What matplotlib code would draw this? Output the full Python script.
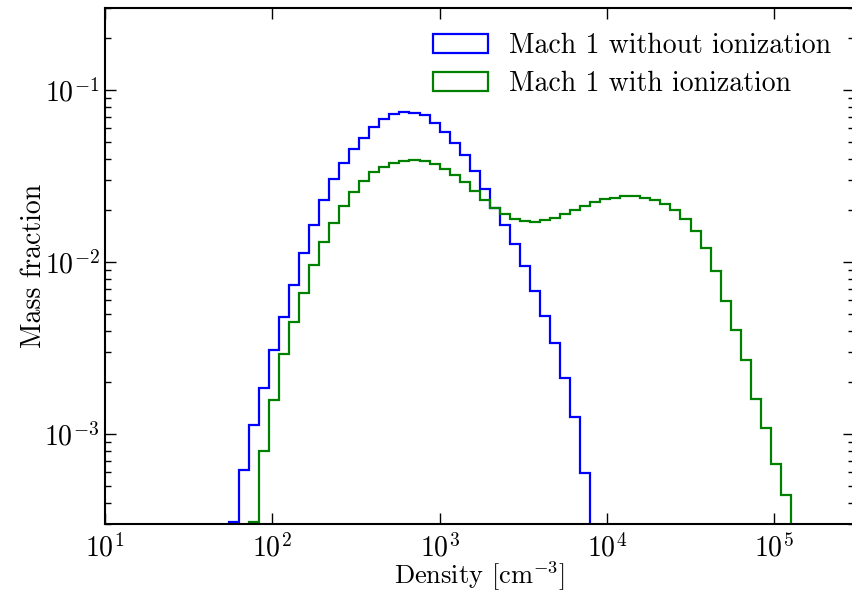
import numpy as np
import matplotlib
matplotlib.use('Agg')
import matplotlib.pyplot as plt
from matplotlib.patches import Patch
from matplotlib.ticker import LogLocator, NullLocator

plt.rcParams['font.family'] = 'serif'
plt.rcParams['font.serif'] = ['cmr10', 'DejaVu Serif']
plt.rcParams['mathtext.fontset'] = 'cm'
plt.rcParams['axes.formatter.use_mathtext'] = True

# log10 bin edges, 0.06 dex wide
edges_noion = np.round(np.arange(1.74, 3.90 + 0.001, 0.06), 2)
edges_ion = np.round(np.arange(1.86, 5.10 + 0.001, 0.06), 2)

mass_noion = [3.1e-4, 6.2e-4, 1.13e-3, 1.85e-3, 3.08e-3, 4.77e-3, 7.36e-3, 0.01125,
              0.0164, 0.0230, 0.0303, 0.0375, 0.0452, 0.0524, 0.0607, 0.0676,
              0.0723, 0.0742, 0.0738, 0.0716, 0.0646, 0.0570, 0.0494, 0.0418,
              0.0338, 0.0265, 0.0206, 0.0164, 0.01273, 9.49e-3, 6.8e-3, 4.86e-3,
              3.37e-3, 2.12e-3, 1.26e-3, 5.9e-4]

mass_ion = [3.1e-4, 8.0e-4, 1.58e-3, 2.92e-3, 4.46e-3, 6.58e-3, 9.6e-3, 0.0130,
            0.0168, 0.0212, 0.0254, 0.0297, 0.0333, 0.0357, 0.0379, 0.0389,
            0.0392, 0.0389, 0.0370, 0.0346, 0.0319, 0.0292, 0.0260, 0.0230,
            0.0207, 0.0190, 0.0179, 0.0173, 0.0170, 0.0175, 0.0181, 0.0190,
            0.0201, 0.0213, 0.0223, 0.0232, 0.0237, 0.0242, 0.0242, 0.0237,
            0.0230, 0.0217, 0.0201, 0.0178, 0.0152, 0.0120, 8.87e-3, 5.96e-3,
            4.02e-3, 2.69e-3, 1.60e-3, 1.09e-3, 6.67e-4, 4.43e-4]

labels = ['Mach 1 without ionization', 'Mach 1 with ionization']
colors = ['#0000ff', '#008000']

fig = plt.figure(figsize=(8.52, 5.94), dpi=100)
ax = fig.add_axes([105/852, 1 - 524/594, (854 - 105)/852, (524 - 8)/594])

ax.stairs(mass_noion, 10**edges_noion, baseline=1e-6, color=colors[0], lw=1.6)
ax.stairs(mass_ion, 10**edges_ion, baseline=1e-6, color=colors[1], lw=1.6)

ax.set_xscale('log')
ax.set_yscale('log')
ax.set_xlim(10, 3e5)
ax.set_ylim(3e-4, 0.3)
ax.xaxis.set_minor_locator(NullLocator())
ax.yaxis.set_minor_locator(LogLocator(base=10, subs=np.arange(2, 10)))

ax.tick_params(which='both', direction='in', top=True, right=True, labelsize=20)
ax.tick_params(axis='x', pad=7)
ax.tick_params(axis='y', pad=4)
ax.tick_params(which='major', length=8, width=1)
ax.tick_params(which='minor', length=4, width=1)
for s in ax.spines.values():
    s.set_linewidth(1.5)

ax.set_xlabel(r'Density [cm$^{-3}$]', fontsize=19, labelpad=-2)
ax.set_ylabel('Mass fraction', fontsize=20, labelpad=-2)

handles = [Patch(facecolor='none', edgecolor=c, lw=1.6) for c in colors]
ax.legend(handles, labels, loc='upper right', bbox_to_anchor=(1.003, 1.0), frameon=False,
          fontsize=20, handlelength=2.0, labelspacing=0.42, handletextpad=0.75)

fig.savefig('out.png', dpi=100)
